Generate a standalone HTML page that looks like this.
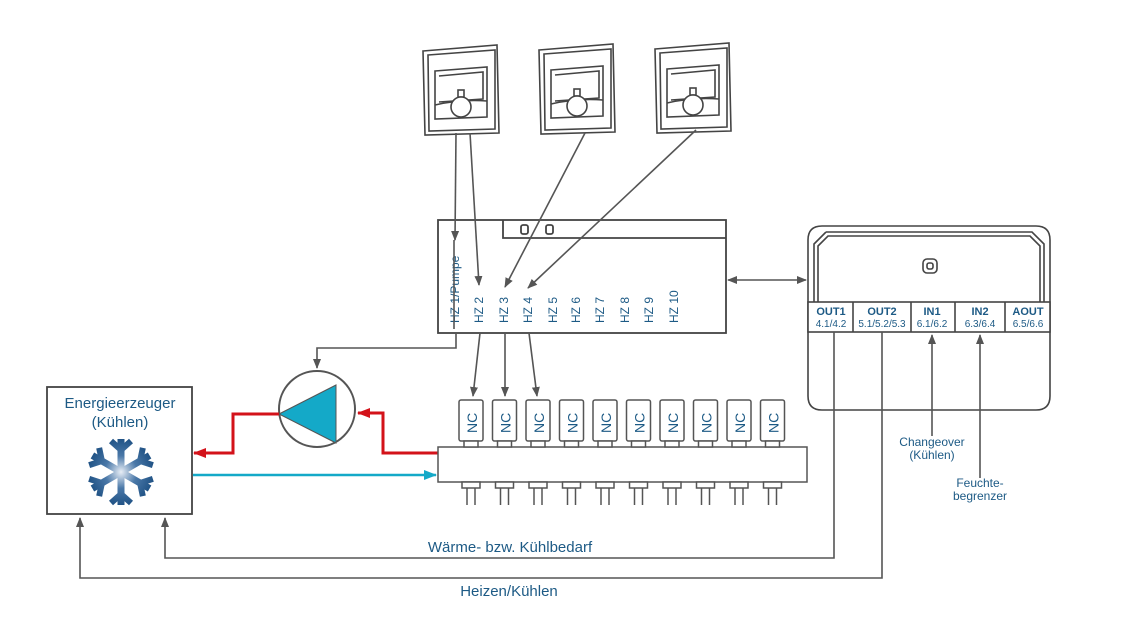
<!DOCTYPE html>
<html><head><meta charset="utf-8"><style>
html,body{margin:0;padding:0;background:#fff;}
svg{display:block;}
text{font-family:"Liberation Sans",sans-serif;fill:#1d5a85;}
</style></head><body>
<svg width="1134" height="620" viewBox="0 0 1134 620" xmlns="http://www.w3.org/2000/svg">
<defs>
<marker id="ag" markerWidth="10" markerHeight="10" refX="9" refY="5" orient="auto" markerUnits="userSpaceOnUse"><path d="M0,1 L10,5 L0,9 Z" fill="#555"/></marker>
<marker id="ag2" markerWidth="10" markerHeight="10" refX="1" refY="5" orient="auto" markerUnits="userSpaceOnUse"><path d="M10,1 L0,5 L10,9 Z" fill="#555"/></marker>
<marker id="ar" markerWidth="14" markerHeight="12" refX="12" refY="6" orient="auto" markerUnits="userSpaceOnUse"><path d="M0,1 L13,6 L0,11 Z" fill="#d3121a"/></marker>
<marker id="ac" markerWidth="14" markerHeight="12" refX="12" refY="6" orient="auto" markerUnits="userSpaceOnUse"><path d="M0,1 L13,6 L0,11 Z" fill="#14a9c8"/></marker>
<radialGradient id="sg" gradientUnits="userSpaceOnUse" cx="0" cy="0" r="36"><stop offset="0" stop-color="#e8eef6"/><stop offset="0.45" stop-color="#4a78a8"/><stop offset="1" stop-color="#1a4d80"/></radialGradient>
<g id="th" fill="#fff" stroke="#444" stroke-width="1.6">
<path d="M0,8 L74,2 L76,90 L2,92 Z"/>
<path d="M5,12 L72,7 L72,86 L6,88 Z"/>
<path d="M12,28 L64,24 L64,74 L12,76 Z"/>
<path d="M16,33 L60,29 L60,56 L16,59"/>
<path d="M12,62 Q38,56 64,58"/>
<rect x="35" y="47" width="6" height="7"/>
<circle cx="38" cy="64" r="10"/>
</g>
</defs>

<!-- thermostats -->
<use href="#th" x="423" y="43"/>
<use href="#th" x="539" y="42"/>
<use href="#th" x="655" y="41"/>

<!-- controller box -->
<g stroke="#444" stroke-width="1.8" fill="#fff">
<rect x="438" y="220" width="288" height="113"/>
<path d="M503,220 L503,238 L726,238" fill="none"/>
<rect x="521" y="225" width="7" height="9" rx="2"/>
<rect x="546" y="225" width="7" height="9" rx="2"/>
</g>
<g font-size="12">
<text transform="translate(459,323) rotate(-90)">HZ 1/Pumpe</text>
<text transform="translate(483,323) rotate(-90)">HZ 2</text>
<text transform="translate(508,323) rotate(-90)">HZ 3</text>
<text transform="translate(532,323) rotate(-90)">HZ 4</text>
<text transform="translate(557,323) rotate(-90)">HZ 5</text>
<text transform="translate(580,323) rotate(-90)">HZ 6</text>
<text transform="translate(604,323) rotate(-90)">HZ 7</text>
<text transform="translate(629,323) rotate(-90)">HZ 8</text>
<text transform="translate(653,323) rotate(-90)">HZ 9</text>
<text transform="translate(678,323) rotate(-90)">HZ 10</text>
</g>

<!-- thermostat lines -->
<g stroke="#555" stroke-width="1.6" fill="none">
<line x1="456" y1="133" x2="455" y2="240" marker-end="url(#ag)"/>
<line x1="470" y1="133" x2="479" y2="285" marker-end="url(#ag)"/>
<line x1="585" y1="133" x2="505" y2="287" marker-end="url(#ag)"/>
<line x1="696" y1="130" x2="528" y2="288" marker-end="url(#ag)"/>
<line x1="454" y1="240" x2="454" y2="329"/>
</g>

<!-- double arrow -->
<line x1="728" y1="280" x2="806" y2="280" stroke="#555" stroke-width="1.6" marker-start="url(#ag2)" marker-end="url(#ag)"/>

<!-- pump connection -->
<path d="M456,333 L456,348 L317,348 L317,368" stroke="#555" stroke-width="1.6" fill="none" marker-end="url(#ag)"/>

<!-- controller -> NC arrows -->
<g stroke="#555" stroke-width="1.6">
<line x1="480" y1="333" x2="473" y2="396" marker-end="url(#ag)"/>
<line x1="505" y1="333" x2="505" y2="396" marker-end="url(#ag)"/>
<line x1="529" y1="333" x2="537" y2="396" marker-end="url(#ag)"/>
</g>

<!-- pump -->
<circle cx="317" cy="409" r="38" fill="#fff" stroke="#555" stroke-width="2"/>
<path d="M279,414 L336,385 L336,443 Z" fill="#14a9c8" stroke="#555" stroke-width="1"/>

<!-- red lines -->
<path d="M438,453 L383,453 L383,413 L358,413" stroke="#d3121a" stroke-width="3" fill="none" marker-end="url(#ar)"/>
<path d="M279,414 L233,414 L233,453 L194,453" stroke="#d3121a" stroke-width="3" fill="none" marker-end="url(#ar)"/>
<!-- cyan line -->
<line x1="193" y1="475" x2="436" y2="475" stroke="#14a9c8" stroke-width="2.5" marker-end="url(#ac)"/>

<!-- Energieerzeuger -->
<rect x="47" y="387" width="145" height="127" fill="#fff" stroke="#444" stroke-width="1.8"/>
<text x="120" y="408" font-size="15" text-anchor="middle">Energieerzeuger</text>
<text x="120" y="427" font-size="15" text-anchor="middle">(Kühlen)</text>
<g transform="translate(121,472)" stroke="url(#sg)" stroke-width="7" stroke-linecap="butt" fill="none">
<g id="arm"><line x1="0" y1="0" x2="0" y2="-33"/><path d="M-10,-31 L0,-22 L10,-31" stroke-width="6"/></g>
<use href="#arm" transform="rotate(60)"/><use href="#arm" transform="rotate(120)"/>
<use href="#arm" transform="rotate(180)"/><use href="#arm" transform="rotate(240)"/><use href="#arm" transform="rotate(300)"/>
</g>

<!-- manifold -->
<rect x="438" y="447" width="369" height="35" stroke="#555" stroke-width="1.5" fill="#fff"/>
<g stroke="#555" stroke-width="1.5" fill="#fff">
<g id="v"><rect x="459" y="400" width="24" height="41" rx="2"/><rect x="464" y="441" width="14" height="6"/><rect x="462" y="482" width="18" height="6"/><line x1="467" y1="488" x2="467" y2="505"/><line x1="475" y1="488" x2="475" y2="505"/></g>
<use href="#v" x="33.5"/><use href="#v" x="67"/><use href="#v" x="100.5"/><use href="#v" x="134"/>
<use href="#v" x="167.5"/><use href="#v" x="201"/><use href="#v" x="234.5"/><use href="#v" x="268"/><use href="#v" x="301.5"/>
</g>
<g font-size="14">
<text transform="translate(477,433) rotate(-90)">NC</text>
<text transform="translate(510.5,433) rotate(-90)">NC</text>
<text transform="translate(544,433) rotate(-90)">NC</text>
<text transform="translate(577.5,433) rotate(-90)">NC</text>
<text transform="translate(611,433) rotate(-90)">NC</text>
<text transform="translate(644.5,433) rotate(-90)">NC</text>
<text transform="translate(678,433) rotate(-90)">NC</text>
<text transform="translate(711.5,433) rotate(-90)">NC</text>
<text transform="translate(745,433) rotate(-90)">NC</text>
<text transform="translate(778.5,433) rotate(-90)">NC</text>
</g>

<!-- right device -->
<g stroke="#444" stroke-width="1.6" fill="#fff">
<path d="M822,226 L1036,226 Q1050,226 1050,240 L1050,396 Q1050,410 1036,410 L822,410 Q808,410 808,396 L808,240 Q808,226 822,226 Z"/>
<path d="M826,232 L1032,232 L1044,244 L1044,302 M814,302 L814,244 L826,232" fill="none"/>
<path d="M818,302 L818,246 L828,236 L1030,236 L1040,246 L1040,302" fill="none"/>
<rect x="923" y="259" width="14" height="14" rx="4"/>
<rect x="927" y="263" width="6" height="6" rx="2"/>
<rect x="808" y="302" width="242" height="30" fill="#fff"/>
<line x1="853" y1="302" x2="853" y2="332"/>
<line x1="911" y1="302" x2="911" y2="332"/>
<line x1="955" y1="302" x2="955" y2="332"/>
<line x1="1005" y1="302" x2="1005" y2="332"/>
</g>
<g text-anchor="middle">
<text x="831" y="315" font-size="11" font-weight="bold">OUT1</text>
<text x="831" y="327" font-size="10">4.1/4.2</text>
<text x="882" y="315" font-size="11" font-weight="bold">OUT2</text>
<text x="882" y="327" font-size="10">5.1/5.2/5.3</text>
<text x="932" y="315" font-size="11" font-weight="bold">IN1</text>
<text x="932" y="327" font-size="10">6.1/6.2</text>
<text x="980" y="315" font-size="11" font-weight="bold">IN2</text>
<text x="980" y="327" font-size="10">6.3/6.4</text>
<text x="1028" y="315" font-size="11" font-weight="bold">AOUT</text>
<text x="1028" y="327" font-size="10">6.5/6.6</text>
</g>

<!-- input arrows -->
<g stroke="#555" stroke-width="1.6">
<line x1="932" y1="436" x2="932" y2="335" marker-end="url(#ag)"/>
<line x1="980" y1="478" x2="980" y2="335" marker-end="url(#ag)"/>
</g>
<g text-anchor="middle" font-size="12">
<text x="932" y="446">Changeover</text>
<text x="932" y="459">(Kühlen)</text>
<text x="980" y="487">Feuchte-</text>
<text x="980" y="500">begrenzer</text>
</g>

<!-- bottom feedback lines -->
<path d="M834,332 L834,558 L165,558 L165,518" stroke="#555" stroke-width="1.6" fill="none" marker-end="url(#ag)"/>
<path d="M882,332 L882,578 L80,578 L80,518" stroke="#555" stroke-width="1.6" fill="none" marker-end="url(#ag)"/>
<text x="510" y="552" font-size="15" text-anchor="middle">Wärme- bzw. Kühlbedarf</text>
<text x="509" y="596" font-size="15" text-anchor="middle">Heizen/Kühlen</text>
</svg>
</body></html>
